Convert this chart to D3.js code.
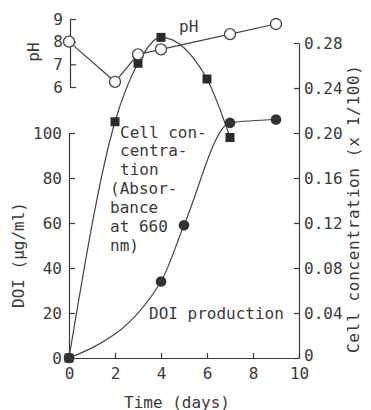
<!DOCTYPE html>
<html>
<head>
<meta charset="utf-8">
<script src="https://cdn.jsdelivr.net/npm/d3@7"></script>
<style>
  html, body { margin: 0; padding: 0; background: #fff; }
  svg text { font-family: "DejaVu Sans Mono", "Liberation Mono", monospace; fill: #3a3a3a; }
</style>
</head>
<body>
<svg id="chart" width="371" height="410"></svg>
<script>
// pH (open circles)
const phDays = [0, 2, 3, 4, 7, 9];
const phValues = [8.0, 6.23, 7.44, 7.66, 8.33, 8.78];

// cell concentration (filled squares), right axis
const cellDays = [0, 2, 3, 4, 6, 7];
const cellValues = [0, 0.21, 0.262, 0.285, 0.248, 0.196];

// DOI production (filled circles), left axis
const doiDays = [0, 4, 5, 7, 9];
const doiValues = [0, 34, 59, 104.5, 106];

const timeTicks = [0, 2, 4, 6, 8, 10];
const doiTicks = [0, 20, 40, 60, 80, 100];
const cellTicks = [0, 0.04, 0.08, 0.12, 0.16, 0.20, 0.24, 0.28];
const phTicks = [6, 7, 8, 9];

const cellLabel = ["Cell con-", "centra-", "tion", "(Absor-", "bance", "at 660", "nm)"];

const INK = "#3a3a3a";
const svg = d3.select("#chart");

const x = d3.scaleLinear().domain([0, 10]).range([69, 299]);
const yDoi = d3.scaleLinear().domain([0, 100]).range([358, 133]);
const yCell = d3.scaleLinear().domain([0, 0.28]).range([358, 43]);
const yPh = d3.scaleLinear().domain([6, 9]).range([87, 19]);

function styleAxis(g){
  g.selectAll("path, line").attr("stroke", INK).attr("stroke-width", 1.2);
  g.selectAll("text").attr("font-size", 16).attr("fill", INK)
    .style("font-family", "'DejaVu Sans Mono', monospace");
}

// axes
svg.append("g")
  .attr("transform", "translate(0,358)")
  .call(d3.axisBottom(x).tickValues(timeTicks).tickSize(-5).tickSizeOuter(0).tickPadding(10))
  .call(styleAxis);

svg.append("g")
  .attr("transform", "translate(69,0)")
  .call(d3.axisLeft(yDoi).tickValues(doiTicks).tickSize(-6).tickSizeOuter(0).tickPadding(7))
  .call(styleAxis);

const cellAxis = svg.append("g")
  .attr("transform", "translate(299,0)")
  .call(d3.axisRight(yCell).tickValues(cellTicks).tickSize(-5).tickSizeOuter(0).tickPadding(5)
    .tickFormat(d => d === 0 ? "0" : d3.format(".2f")(d)))
  .call(styleAxis);
// the bottom "0" sits a little higher, clear of the "10" below it
cellAxis.selectAll(".tick text").filter(d => d === 0).attr("y", -3);

svg.append("g")
  .attr("transform", "translate(70,0)")
  .call(d3.axisLeft(yPh).tickValues(phTicks).tickSize(-6).tickSizeOuter(0).tickPadding(7)
    .tickFormat(d3.format("d")))
  .call(styleAxis);

// curves
const phLine = d3.line().x((d, i) => x(phDays[i])).y(d => yPh(d));
const cellLine = d3.line().x((d, i) => x(cellDays[i])).y(d => yCell(d)).curve(d3.curveMonotoneX);
const doiLine = d3.line().x((d, i) => x(doiDays[i])).y(d => yDoi(d)).curve(d3.curveMonotoneX);

[[phLine, phValues], [cellLine, cellValues], [doiLine, doiValues]].forEach(([fn, vals]) => {
  svg.append("path")
    .attr("d", fn(vals))
    .attr("fill", "none")
    .attr("stroke", "#444")
    .attr("stroke-width", 1.2);
});

// markers
svg.selectAll("rect.cell")
  .data(cellValues)
  .enter().append("rect")
  .attr("class", "cell")
  .attr("x", (d, i) => x(cellDays[i]) - 4.5)
  .attr("y", d => yCell(d) - 4.5)
  .attr("width", 9)
  .attr("height", 9)
  .attr("fill", "#2b2b2b");

svg.selectAll("circle.ph")
  .data(phValues)
  .enter().append("circle")
  .attr("class", "ph")
  .attr("cx", (d, i) => x(phDays[i]))
  .attr("cy", d => yPh(d))
  .attr("r", 5.5)
  .attr("fill", "#fff")
  .attr("stroke", "#444")
  .attr("stroke-width", 1.3);

svg.selectAll("circle.doi")
  .data(doiValues)
  .enter().append("circle")
  .attr("class", "doi")
  .attr("cx", (d, i) => x(doiDays[i]))
  .attr("cy", d => yDoi(d))
  .attr("r", 5.3)
  .attr("fill", "#333");

// axis titles
svg.append("text")
  .attr("transform", "translate(33,52) rotate(-90)")
  .attr("text-anchor", "middle").attr("dominant-baseline", "central")
  .attr("font-size", 16).text("pH");

svg.append("text")
  .attr("transform", "translate(18,255) rotate(-90)")
  .attr("text-anchor", "middle").attr("dominant-baseline", "central")
  .attr("font-size", 16).text("DOI (µg/ml)");

svg.append("text")
  .attr("transform", "translate(353,209) rotate(-90)")
  .attr("text-anchor", "middle").attr("dominant-baseline", "central")
  .attr("font-size", 16).attr("textLength", 288).text("Cell concentration (x 1/100)");

svg.append("text")
  .attr("x", 177).attr("y", 402)
  .attr("text-anchor", "middle").attr("dominant-baseline", "central")
  .attr("font-size", 16).text("Time (days)");

// series annotations
svg.append("text")
  .attr("x", 179).attr("y", 26)
  .attr("dominant-baseline", "central")
  .attr("font-size", 16).text("pH");

svg.append("text")
  .attr("x", 149).attr("y", 313)
  .attr("dominant-baseline", "central")
  .attr("font-size", 16).text("DOI production");

svg.selectAll("text.cellnote")
  .data(cellLabel)
  .enter().append("text")
  .attr("class", "cellnote")
  .attr("x", (d, i) => i < 3 ? 120 : 110)
  .attr("y", (d, i) => 132 + i * 18.9)
  .attr("dominant-baseline", "central")
  .attr("font-size", 16)
  .text(d => d);
</script>
</body>
</html>
